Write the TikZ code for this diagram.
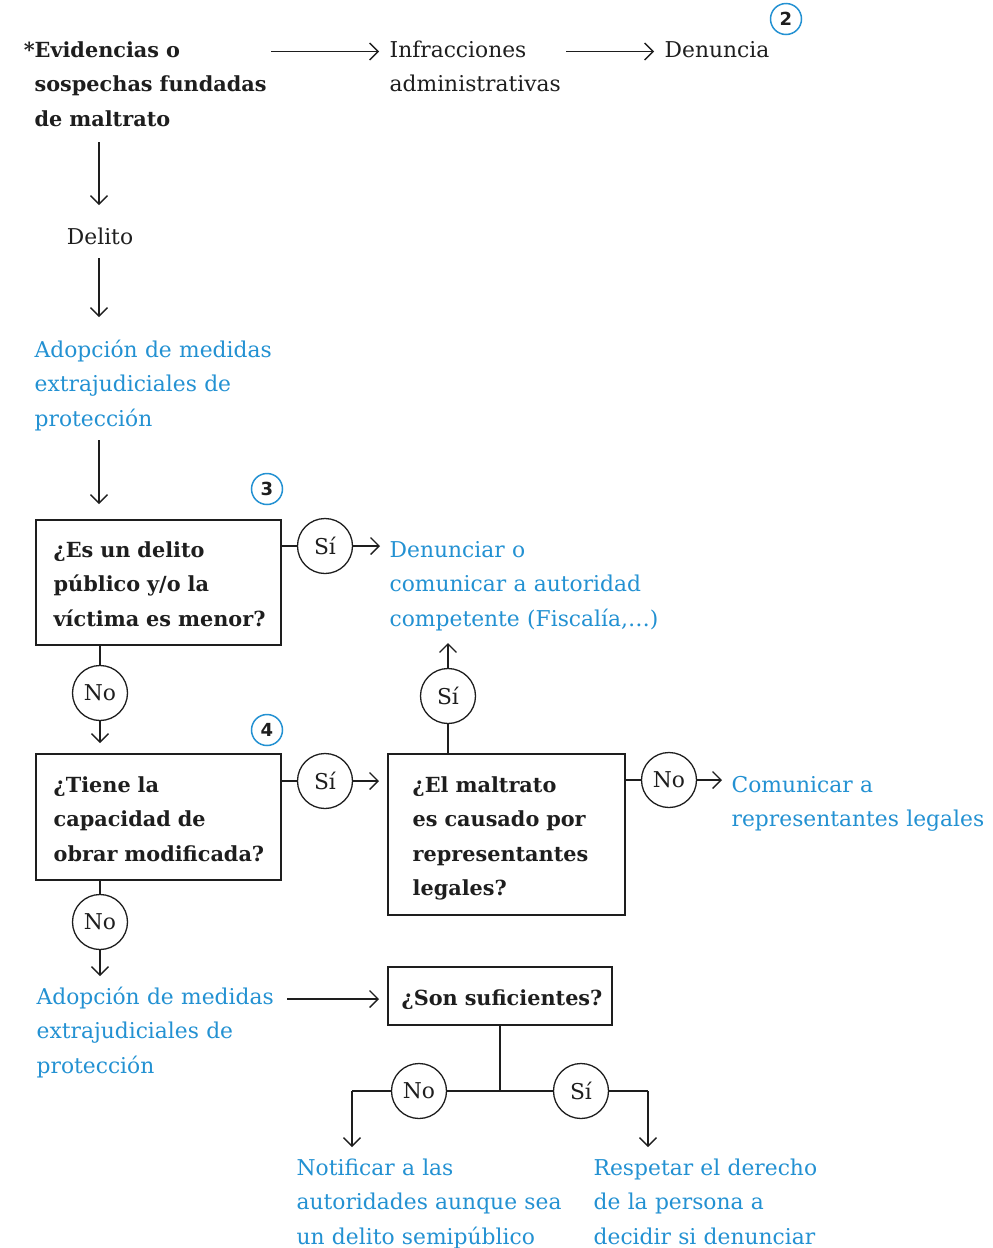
\documentclass[tikz,border=0pt]{standalone}
\usepackage{fontspec}
\setmainfont{DejaVu Serif}
\newfontfamily\numfont{DejaVu Sans}
\usetikzlibrary{arrows.meta}
\definecolor{azul}{RGB}{35,145,210}
\definecolor{tinta}{RGB}{30,30,30}
\begin{document}
\begin{tikzpicture}[x=1pt,y=-1pt,line width=1.3pt,draw=tinta,
  txt/.style={anchor=base west,inner sep=0pt,text width=420pt,align=left,
    font=\fontsize{21.8}{34.5}\selectfont,text=tinta},
  bluetxt/.style={txt,text=azul},
  boldtxt/.style={txt,font=\fontsize{20.8}{34.5}\selectfont\bfseries},
  qbox/.style={draw=tinta,rectangle,inner sep=0pt,line width=1.4pt},
  ans/.style={draw=tinta,circle,minimum size=55pt,inner sep=0pt,fill=white,
    font=\fontsize{21.8}{21.8}\selectfont,text=tinta},
  num/.style={draw=azul,circle,minimum size=31pt,inner sep=0pt,line width=1.5pt,
    font=\numfont\bfseries\fontsize{18}{18}\selectfont,text=tinta},
  arr/.style={draw=tinta,-{Straight Barb[length=8.5pt,width=17pt]}}]
\useasboundingbox (0,0) rectangle (993,1248);

% ---- top row
\node[boldtxt] (evid) at (34,57) {\llap{*}Evidencias o\\sospechas fundadas\\de maltrato};
\node[txt] (infr) at (389,57) {Infracciones\\administrativas};
\node[txt] (denu) at (664,57) {Denuncia};
\node[num] (n2) at (786,19) {2};
\coordinate (a1s) at (271,51.5); \coordinate (a1e) at (379,51.5);
\coordinate (a2s) at (566,51.5); \coordinate (a2e) at (654,51.5);
\draw[arr] (a1s) -- (a1e);
\draw[arr] (a2s) -- (a2e);

% ---- left column
\node[anchor=base,inner sep=0pt,font=\fontsize{21.8}{21.8}\selectfont,text=tinta] (deli) at (100,244) {Delito};
\coordinate (v1s) at (99,142); \coordinate (v1e) at (99,205);
\coordinate (v2s) at (99,258); \coordinate (v2e) at (99,317);
\coordinate (v3s) at (99,440); \coordinate (v3e) at (99,504);
\draw[arr] (v1s) -- (v1e);
\draw[arr] (v2s) -- (v2e);
\node[bluetxt] (adop1) at (34,357) {Adopción de medidas\\extrajudiciales de\\protección};
\draw[arr] (v3s) -- (v3e);

% ---- question 1
\node[num] (n3) at (267,489) {3};
\node[qbox,minimum width=245pt,minimum height=125pt] (b1) at (158.5,582.5) {};
\node[boldtxt] (q1t) at (53,557) {¿Es un delito\\público y/o la\\víctima es menor?};
\node[ans] (c1) at (325,546) {Sí};
\coordinate (c1e) at (380,546);
\draw (b1.east |- c1) -- (c1);
\draw[arr] (c1) -- (c1e);
\node[bluetxt] (denc) at (389,557) {Denunciar o\\comunicar a autoridad\\competente (Fiscalía,…)};

\node[ans] (c2) at (100,693) {No};
\coordinate (c2e) at (100,743);
\draw (b1.south -| c2) -- (c2);
\draw[arr] (c2) -- (c2e);

% ---- question 2
\node[num] (n4) at (267,730) {4};
\node[qbox,minimum width=245pt,minimum height=126pt] (b2) at (158.5,817) {};
\node[boldtxt] (q2t) at (53,792) {¿Tiene la\\capacidad de\\obrar modificada?};
\node[ans] (c3) at (325,781) {Sí};
\coordinate (c3e) at (379,781);
\draw (b2.east |- c3) -- (c3);
\draw[arr] (c3) -- (c3e);

% ---- question 3
\node[qbox,minimum width=237pt,minimum height=161pt] (b3) at (506.5,834.5) {};
\node[boldtxt] (q3t) at (412,792) {¿El maltrato\\es causado por\\representantes\\legales?};
\node[ans] (c4) at (448,696) {Sí};
\coordinate (c4e) at (448,643);
\draw (b3.north -| c4) -- (c4);
\draw[arr] (c4) -- (c4e);
\node[ans] (c5) at (669,780) {No};
\coordinate (c5e) at (722,780);
\draw (b3.east |- c5) -- (c5);
\draw[arr] (c5) -- (c5e);
\node[bluetxt] (comu) at (731,792) {Comunicar a\\representantes legales};

\node[ans] (c6) at (100,922) {No};
\coordinate (c6e) at (100,976);
\draw (b2.south -| c6) -- (c6);
\draw[arr] (c6) -- (c6e);

% ---- question 4
\node[bluetxt] (adop2) at (36,1004) {Adopción de medidas\\extrajudiciales de\\protección};
\node[qbox,minimum width=224pt,minimum height=58pt] (b4) at (500,996) {};
\node[boldtxt] (q4t) at (401,1005) {¿Son suficientes?};
\coordinate (a4s) at (287,999); \coordinate (a4e) at (379,999);
\draw[arr] (a4s) -- (a4e);

\coordinate (j) at (500,1091);
\coordinate (lk) at (352,1091); \coordinate (lke) at (352,1147);
\coordinate (rk) at (648,1091); \coordinate (rke) at (648,1147);
\draw (b4.south) -- (j);
\draw (lk) -- (rk);
\draw[arr] (lk) -- (lke);
\draw[arr] (rk) -- (rke);
\node[ans] (c7) at (419,1091) {No};
\node[ans] (c8) at (581,1091) {Sí};
\node[bluetxt] (noti) at (296,1175) {Notificar a las\\autoridades aunque sea\\un delito semipúblico};
\node[bluetxt] (resp) at (593,1175) {Respetar el derecho\\de la persona a\\decidir si denunciar};
\end{tikzpicture}
\end{document}
